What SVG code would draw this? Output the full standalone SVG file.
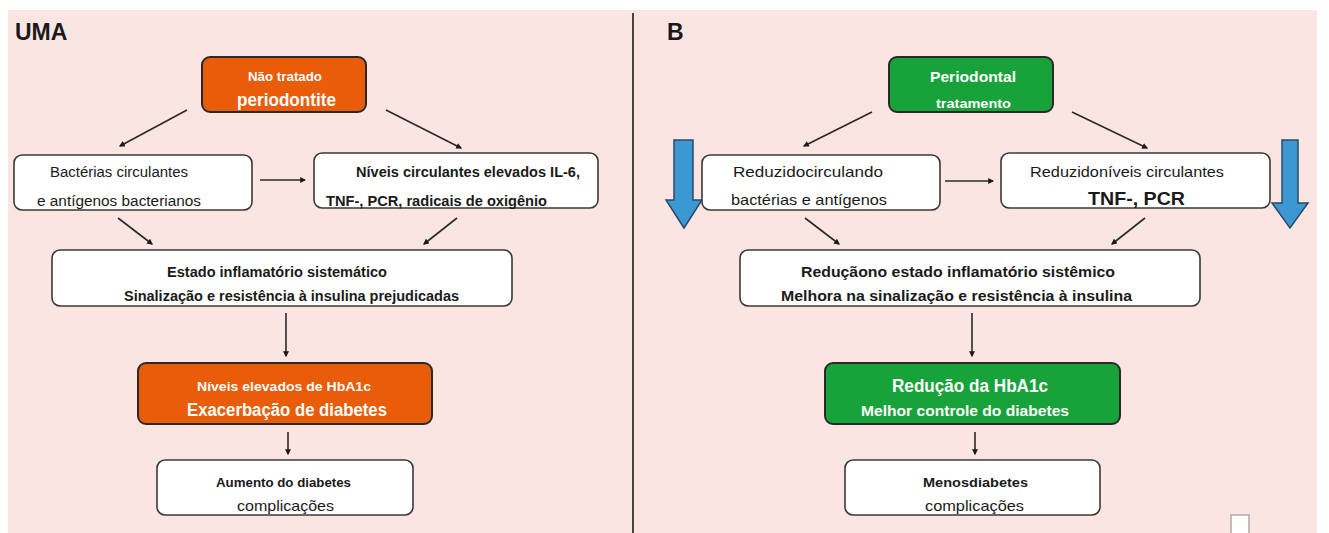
<svg xmlns="http://www.w3.org/2000/svg" width="1329" height="533" viewBox="0 0 1329 533">
<style>
text{font-family:"Liberation Sans",Arial,sans-serif;fill:#1a1a1a}
.b{font-weight:bold}
.w{fill:#fff}
.box{fill:#fff;stroke:#3a3a3a;stroke-width:1.6}
.or{fill:#E85C0A;stroke:#2a2a2a;stroke-width:2}
.gr{fill:#17A33A;stroke:#2a2a2a;stroke-width:2}
.c{stroke:#2a2a2a;stroke-width:1.6;fill:none;marker-end:url(#ah)}
.blue{fill:#3C98D2;stroke:#2a4a66;stroke-width:1.5}
</style>
<defs>
<marker id="ah" viewBox="0 0 10 10" refX="8" refY="5" markerWidth="6" markerHeight="6" markerUnits="userSpaceOnUse" orient="auto"><path d="M0,0 L10,5 L0,10 z" fill="#1a1a1a"/></marker>
</defs>
<rect x="0" y="0" width="1329" height="533" fill="#fff"/>
<rect x="8" y="10" width="1309" height="523" fill="#FAE5E3"/>
<line x1="633" y1="13" x2="633" y2="533" stroke="#444" stroke-width="2"/>
<text x="15" y="40" class="b" font-size="23">UMA</text>
<text x="667" y="40" class="b" font-size="23">B</text>

<g id="connectors">
<line class="c" x1="187" y1="110" x2="120" y2="146"/>
<line class="c" x1="386" y1="110" x2="461" y2="148"/>
<line class="c" x1="260" y1="180" x2="305" y2="180"/>
<line class="c" x1="118" y1="218" x2="152" y2="244"/>
<line class="c" x1="457" y1="218" x2="424" y2="244"/>
<line class="c" x1="286" y1="313" x2="286" y2="356"/>
<line class="c" x1="288" y1="432" x2="288" y2="454"/>
<line class="c" x1="872" y1="112" x2="804" y2="146"/>
<line class="c" x1="1072" y1="112" x2="1147" y2="148"/>
<line class="c" x1="945" y1="181" x2="993" y2="181"/>
<line class="c" x1="805" y1="218" x2="839" y2="244"/>
<line class="c" x1="1145" y1="218" x2="1112" y2="244"/>
<line class="c" x1="972" y1="313" x2="972" y2="356"/>
<line class="c" x1="975" y1="432" x2="975" y2="454"/>
</g>

<g id="blue-arrow-left"><path class="blue" d="M674,140 H693 V200 H702 L684,228 L666,200 H674 Z"/></g>
<g id="blue-arrow-right"><path class="blue" d="M1282,140 H1298 V203 H1308 L1290,228 L1272,203 H1282 Z"/></g>

<g id="a-untreated">
<rect class="or" x="202" y="57" width="164" height="55" rx="8"/>
<text class="w b" x="248" y="81" font-size="12" textLength="74" lengthAdjust="spacingAndGlyphs">Não tratado</text>
<text class="w b" x="237" y="106" font-size="18" textLength="99" lengthAdjust="spacingAndGlyphs">periodontite</text>
</g>
<g id="a-bacteria">
<rect class="box" x="14" y="155" width="238" height="55" rx="8"/>
<text x="50" y="177" font-size="14" textLength="138" lengthAdjust="spacingAndGlyphs">Bactérias circulantes</text>
<text x="37" y="206" font-size="14" textLength="164" lengthAdjust="spacingAndGlyphs">e antígenos bacterianos</text>
</g>
<g id="a-levels">
<rect class="box" x="314" y="153" width="284" height="55" rx="8"/>
<text class="b" x="356" y="177" font-size="14" textLength="224" lengthAdjust="spacingAndGlyphs">Níveis circulantes elevados IL-6,</text>
<text class="b" x="326" y="206" font-size="14" textLength="221" lengthAdjust="spacingAndGlyphs">TNF-, PCR, radicais de oxigênio</text>
</g>
<g id="a-inflam">
<rect class="box" x="52" y="250" width="460" height="56" rx="8"/>
<text class="b" x="167" y="277" font-size="14" textLength="220" lengthAdjust="spacingAndGlyphs">Estado inflamatório sistemático</text>
<text class="b" x="124" y="301" font-size="14" textLength="335" lengthAdjust="spacingAndGlyphs">Sinalização e resistência à insulina prejudicadas</text>
</g>
<g id="a-hba1c">
<rect class="or" x="138" y="363" width="294" height="61" rx="8"/>
<text class="w b" x="197" y="391" font-size="13" textLength="174" lengthAdjust="spacingAndGlyphs">Níveis elevados de HbA1c</text>
<text class="w b" x="187" y="416" font-size="18" textLength="200" lengthAdjust="spacingAndGlyphs">Exacerbação de diabetes</text>
</g>
<g id="a-complic">
<rect class="box" x="157" y="460" width="256" height="55" rx="8"/>
<text class="b" x="216" y="487" font-size="12" textLength="135" lengthAdjust="spacingAndGlyphs">Aumento do diabetes</text>
<text x="237" y="511" font-size="15" textLength="97" lengthAdjust="spacingAndGlyphs">complicações</text>
</g>

<g id="b-treatment">
<rect class="gr" x="889" y="57" width="164" height="55" rx="8"/>
<text class="w b" x="930" y="82" font-size="15" textLength="86" lengthAdjust="spacingAndGlyphs">Periodontal</text>
<text class="w b" x="936" y="108" font-size="13" textLength="75" lengthAdjust="spacingAndGlyphs">tratamento</text>
</g>
<g id="b-bacteria">
<rect class="box" x="702" y="155" width="238" height="55" rx="8"/>
<text x="733" y="177" font-size="15" textLength="150" lengthAdjust="spacingAndGlyphs">Reduzidocirculando</text>
<text x="731" y="205" font-size="15" textLength="156" lengthAdjust="spacingAndGlyphs">bactérias e antígenos</text>
</g>
<g id="b-levels">
<rect class="box" x="1001" y="153" width="269" height="55" rx="8"/>
<text x="1030" y="177" font-size="15" textLength="194" lengthAdjust="spacingAndGlyphs">Reduzidoníveis circulantes</text>
<text class="b" x="1088" y="205" font-size="19" textLength="97" lengthAdjust="spacingAndGlyphs">TNF-, PCR</text>
</g>
<g id="b-inflam">
<rect class="box" x="740" y="250" width="460" height="56" rx="8"/>
<text class="b" x="801" y="277" font-size="15" textLength="314" lengthAdjust="spacingAndGlyphs">Reduçãono estado inflamatório sistêmico</text>
<text class="b" x="781" y="301" font-size="15" textLength="351" lengthAdjust="spacingAndGlyphs">Melhora na sinalização e resistência à insulina</text>
</g>
<g id="b-hba1c">
<rect class="gr" x="825" y="363" width="295" height="61" rx="8"/>
<text class="w b" x="892" y="392" font-size="18" textLength="156" lengthAdjust="spacingAndGlyphs">Redução da HbA1c</text>
<text class="w b" x="861" y="416" font-size="15" textLength="208" lengthAdjust="spacingAndGlyphs">Melhor controle do diabetes</text>
</g>
<g id="b-complic">
<rect class="box" x="845" y="460" width="255" height="55" rx="8"/>
<text class="b" x="923" y="487" font-size="13" textLength="105" lengthAdjust="spacingAndGlyphs">Menosdiabetes</text>
<text x="925" y="511" font-size="15" textLength="99" lengthAdjust="spacingAndGlyphs">complicações</text>
</g>
<rect x="1231" y="515" width="18" height="20" fill="#fff" stroke="#aaa" stroke-width="1.5"/>
</svg>
